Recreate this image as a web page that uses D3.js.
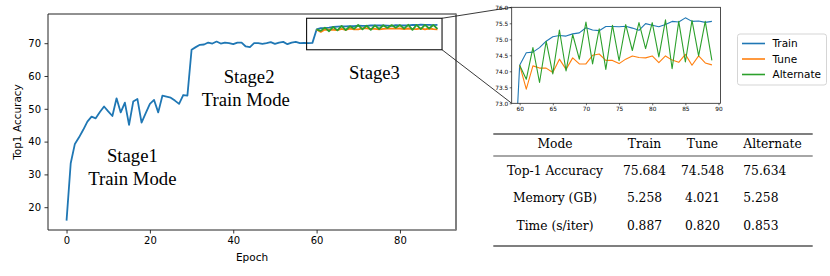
<!DOCTYPE html>
<html>
<head>
<meta charset="utf-8">
<script src="https://cdn.jsdelivr.net/npm/d3@7"></script>
<style>
  body { margin: 0; background: #fff; }
  svg { display: block; }
  text { fill: #000; }
</style>
</head>
<body>
<div id="viz"></div>
<script>
// ---- data ----
let trainEpochs = d3.range(0, 90);
let trainAcc = [15.9, 33.4, 39.3, 41.3, 43.6, 46.1, 47.6, 47.1, 49.0, 50.7,
  49.2, 47.8, 53.2, 48.9, 51.9, 45.1, 52.2, 53.0, 45.8, 48.7,
  51.5, 52.7, 48.9, 54.0, 53.7, 53.4, 52.5, 51.5, 54.2, 54.0,
  68.0, 68.8, 69.5, 69.6, 70.2, 69.9, 70.5, 69.9, 70.2, 70.0,
  69.7, 70.2, 70.2, 69.0, 68.8, 70.0, 70.0, 69.8, 70.0, 70.3,
  69.8, 70.2, 70.4, 69.7, 70.2, 70.4, 70.0, 70.1, 70.0, 70.1,
  74.19, 74.58, 74.60, 74.74, 74.94, 75.08, 75.12, 75.10, 75.17, 75.20,
  75.36, 75.29, 75.27, 75.40, 75.40, 75.39, 75.41, 75.35, 75.28, 75.49,
  75.44, 75.39, 75.46, 75.56, 75.54, 75.67, 75.56, 75.57, 75.53, 75.56];
let stage3Epochs = d3.range(60, 90);
let tuneAcc = [74.19, 73.44, 74.17, 74.10, 74.10, 73.96, 74.38, 74.06, 74.42, 74.23,
  74.23, 74.50, 74.54, 74.34, 74.34, 74.24, 74.38, 74.48, 74.43, 74.42,
  74.48, 74.27, 74.48, 74.35, 74.28, 74.53, 74.19, 74.48, 74.26, 74.20];
let alternateAcc = [74.19, 73.75, 74.74, 73.65, 74.94, 73.92, 75.29, 74.01, 75.15, 74.38,
  75.54, 74.23, 75.33, 74.06, 75.44, 74.33, 75.46, 74.65, 75.52, 74.71,
  75.52, 74.45, 75.61, 74.08, 75.56, 74.29, 75.59, 74.48, 75.56, 74.34];

let seriesNames = ["Train", "Tune", "Alternate"];
let seriesColors = ["#1f77b4", "#ff7f0e", "#2ca02c"];

let mainXTicks = [0, 20, 40, 60, 80];
let mainYTicks = [20, 30, 40, 50, 60, 70];
let insetXTicks = [60, 65, 70, 75, 80, 85, 90];
let insetYTicks = [73.0, 73.5, 74.0, 74.5, 75.0, 75.5, 76.0];

// zoom box around stage 3 (data coords)
let zoomBox = {x0: 57.6, x1: 90.1, y0: 68.0, y1: 77.6};

// stage annotations (data coords, text baseline)
let stageLabels = [
  {text: "Stage1", epoch: 15.8, acc: 33.7},
  {text: "Train Mode", epoch: 15.8, acc: 26.8},
  {text: "Stage2", epoch: 43.8, acc: 57.8},
  {text: "Train Mode", epoch: 43.0, acc: 50.9},
  {text: "Stage3", epoch: 73.9, acc: 59.2}
];

let tableHeader = ["Mode", "Train", "Tune", "Alternate"];
let tableRows = [
  ["Top-1 Accuracy", "75.684", "74.548", "75.634"],
  ["Memory (GB)", "5.258", "4.021", "5.258"],
  ["Time (s/iter)", "0.887", "0.820", "0.853"]
];

// ---- svg ----
let svg = d3.select("#viz").append("svg")
  .attr("width", 830).attr("height", 276);

let tickFont = "DejaVu Sans";

// ---- main plot ----
let xScale = d3.scaleLinear().domain([-4.45, 93.45]).range([48, 456]);
let yScale = d3.scaleLinear().domain([13.05, 78.9]).range([230, 14]);

let mainG = svg.append("g");

let line = d3.line()
  .x(d => xScale(d[0]))
  .y(d => yScale(d[1]));

let mainSeries = [
  d3.zip(trainEpochs, trainAcc),
  d3.zip(stage3Epochs, tuneAcc),
  d3.zip(stage3Epochs, alternateAcc)
];

mainG.selectAll("path.series")
  .data(mainSeries)
  .join("path")
    .attr("class", "series")
    .attr("d", line)
    .attr("fill", "none")
    .attr("stroke", (d, i) => seriesColors[i])
    .attr("stroke-width", 1.8)
    .attr("stroke-linejoin", "round");

// axes
let xAxisG = mainG.append("g")
  .attr("transform", "translate(0,230)")
  .call(d3.axisBottom(xScale).tickValues(mainXTicks).tickSize(3.5).tickPadding(3.5));
let yAxisG = mainG.append("g")
  .attr("transform", "translate(48,0)")
  .call(d3.axisLeft(yScale).tickValues(mainYTicks).tickSize(3.5).tickPadding(3.5));
[xAxisG, yAxisG].forEach(g => {
  g.select(".domain").remove();
  g.selectAll("line").attr("stroke", "#000").attr("stroke-width", 0.8);
  g.selectAll("text").attr("font-family", tickFont).attr("font-size", 10).attr("fill", "#000");
});

// spines
mainG.append("path")
  .attr("d", `M456,14 H48 V230 H456`)
  .attr("fill", "none").attr("stroke", "#222").attr("stroke-width", 1);
mainG.append("line")
  .attr("x1", 456).attr("x2", 456).attr("y1", 13.5).attr("y2", 230.5)
  .attr("stroke", "#7f7f7f").attr("stroke-width", 2);

mainG.append("text")
  .attr("x", 252).attr("y", 261)
  .attr("text-anchor", "middle")
  .attr("font-family", tickFont).attr("font-size", 10.5)
  .text("Epoch");
mainG.append("text")
  .attr("transform", "translate(20.5,122) rotate(-90)")
  .attr("text-anchor", "middle")
  .attr("font-family", tickFont).attr("font-size", 10.5)
  .text("Top1 Accuracy");

mainG.selectAll("text.stage")
  .data(stageLabels)
  .join("text")
    .attr("class", "stage")
    .attr("x", d => xScale(d.epoch))
    .attr("y", d => yScale(d.acc))
    .attr("text-anchor", "middle")
    .attr("font-family", "Liberation Serif")
    .attr("font-size", 18.7)
    .text(d => d.text);

// zoom rectangle
let bx0 = xScale(zoomBox.x0), bx1 = xScale(zoomBox.x1);
let by0 = yScale(zoomBox.y0), by1 = yScale(zoomBox.y1);
mainG.append("rect")
  .attr("x", bx0).attr("y", by1)
  .attr("width", bx1 - bx0).attr("height", by0 - by1)
  .attr("fill", "none").attr("stroke", "#111").attr("stroke-width", 1.1);

// ---- inset ----
let ixScale = d3.scaleLinear().domain([58.8, 90.3]).range([511.7, 720.5]);
let iyScale = d3.scaleLinear().domain([73, 76]).range([103.3, 7.3]);

// connector lines
svg.append("line")
  .attr("x1", bx1).attr("y1", by1)
  .attr("x2", ixScale.range()[0]).attr("y2", iyScale.range()[1])
  .attr("stroke", "#222").attr("stroke-width", 0.9);
svg.append("line")
  .attr("x1", bx1).attr("y1", by0)
  .attr("x2", ixScale.range()[0]).attr("y2", iyScale.range()[0])
  .attr("stroke", "#222").attr("stroke-width", 0.9);

let insetG = svg.append("g");
insetG.append("rect")
  .attr("x", 511.7).attr("y", 7.3).attr("width", 720.5 - 511.7).attr("height", 96)
  .attr("fill", "#fff");

svg.append("clipPath").attr("id", "insetClip")
  .append("rect")
  .attr("x", 511.7).attr("y", 7.3).attr("width", 720.5 - 511.7).attr("height", 96);

let iline = d3.line()
  .x(d => ixScale(d[0]))
  .y(d => iyScale(d[1]));

let insetSeries = [
  d3.zip(trainEpochs, trainAcc).filter(d => d[0] >= 58),
  d3.zip(stage3Epochs, tuneAcc),
  d3.zip(stage3Epochs, alternateAcc)
];
insetG.append("g").attr("clip-path", "url(#insetClip)")
  .selectAll("path")
  .data(insetSeries)
  .join("path")
    .attr("d", iline)
    .attr("fill", "none")
    .attr("stroke", (d, i) => seriesColors[i])
    .attr("stroke-width", 1.1)
    .attr("stroke-linejoin", "round");

let ixAxisG = insetG.append("g")
  .attr("transform", "translate(0,103.3)")
  .call(d3.axisBottom(ixScale).tickValues(insetXTicks).tickSize(2).tickPadding(1.5).tickFormat(d3.format("d")));
let iyAxisG = insetG.append("g")
  .attr("transform", "translate(511.7,0)")
  .call(d3.axisLeft(iyScale).tickValues(insetYTicks).tickSize(2).tickPadding(1.5).tickFormat(d3.format(".1f")));
[ixAxisG, iyAxisG].forEach(g => {
  g.select(".domain").remove();
  g.selectAll("line").attr("stroke", "#000").attr("stroke-width", 0.6);
  g.selectAll("text").attr("font-family", tickFont).attr("font-size", 5.8).attr("fill", "#000");
});
insetG.append("rect")
  .attr("x", 511.7).attr("y", 7.3).attr("width", 720.5 - 511.7).attr("height", 96)
  .attr("fill", "none").attr("stroke", "#222").attr("stroke-width", 0.8);

// ---- legend ----
let legendG = svg.append("g").attr("transform", "translate(737.5,34)");
legendG.append("rect")
  .attr("width", 89).attr("height", 51).attr("rx", 2.5)
  .attr("fill", "#fff").attr("stroke", "#d0d0d0").attr("stroke-width", 0.9);
let legendItems = legendG.selectAll("g.item")
  .data(seriesNames)
  .join("g")
    .attr("class", "item")
    .attr("transform", (d, i) => `translate(0,${9.5 + i * 15.5})`);
legendItems.append("line")
  .attr("x1", 4.5).attr("x2", 27.5)
  .attr("stroke", (d, i) => seriesColors[i]).attr("stroke-width", 1.6);
legendItems.append("text")
  .attr("x", 35).attr("y", 3.7)
  .attr("font-family", tickFont).attr("font-size", 10.5)
  .text(d => d);

// ---- table ----
let tableG = svg.append("g");
let colX = [555, 644.5, 702.5, 743.3];
let colAnchor = ["middle", "middle", "middle", "start"];
let rowY = [148, 174.5, 202, 229.5];

tableG.append("line").attr("x1", 493.3).attr("x2", 812.7).attr("y1", 134).attr("y2", 134)
  .attr("stroke", "#000").attr("stroke-width", 1.2);
tableG.append("line").attr("x1", 493.3).attr("x2", 812.7).attr("y1", 156).attr("y2", 156)
  .attr("stroke", "#000").attr("stroke-width", 0.7);
tableG.append("line").attr("x1", 493.3).attr("x2", 812.7).attr("y1", 246).attr("y2", 246)
  .attr("stroke", "#000").attr("stroke-width", 1.2);

let allRows = [tableHeader].concat(tableRows);
tableG.selectAll("g.row")
  .data(allRows)
  .join("g")
    .attr("class", "row")
    .attr("transform", (d, i) => `translate(0,${rowY[i]})`)
  .selectAll("text")
  .data(d => d)
  .join("text")
    .attr("x", (d, j) => colX[j])
    .attr("text-anchor", (d, j) => colAnchor[j])
    .attr("font-family", "DejaVu Serif")
    .attr("font-size", 12.3)
    .text(d => d);
</script>
</body>
</html>
